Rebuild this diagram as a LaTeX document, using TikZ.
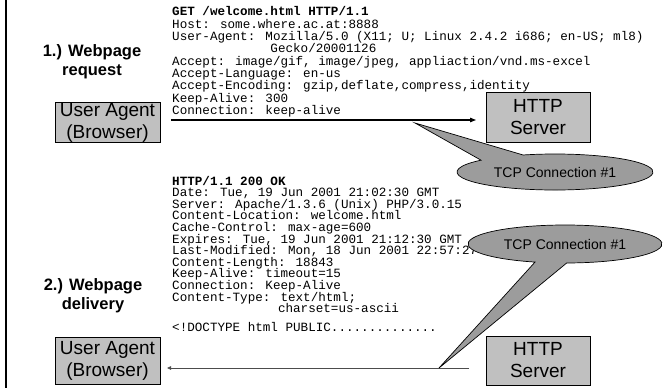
\documentclass[tikz,border=0pt]{standalone}
\usepackage{fontspec}
\setmainfont{Liberation Sans}
\newfontfamily\monof{Liberation Mono}
\usetikzlibrary{arrows.meta}
\definecolor{boxgray}{HTML}{C0C0C0}
\definecolor{bubgray}{HTML}{9C9C9C}
\begin{document}
\begin{tikzpicture}[x=1pt,y=1pt,yscale=-1,
  mono/.style={font=\monof\fontsize{12.6}{14}\selectfont, inner sep=0pt, anchor=base west},
  agentbox/.style={draw=black, line width=0.8pt, fill=boxgray, minimum width=105pt,
    align=center, font=\fontsize{19}{22}\selectfont, inner sep=0pt},
  phaselabel/.style={align=center, font=\bfseries\fontsize{16.5}{19}\selectfont, inner sep=0pt},
  bubble/.style={draw=black, line width=0.7pt, fill=bubgray},
  tcptext/.style={font=\fontsize{14}{16}\selectfont, inner sep=0pt},
  reqarrow/.style={-{Triangle[length=6pt,width=4.5pt]}, line width=1.1pt},
  resarrow/.style={-{Triangle[length=4pt,width=3.5pt]}, line width=0.8pt, draw=black!70, fill=black!70}]
\useasboundingbox (0,0) rectangle (663,388);

% left rule
\coordinate (rt) at (6,0);
\coordinate (rb) at (6,388);
\draw[line width=1.5pt] (rt) -- (rb);

% phase labels
\node[phaselabel] (lab1) at (92,62) {1.) Webpage\\request};
\node[phaselabel] (lab2) at (93,296) {2.) Webpage\\delivery};

% boxes
\node[agentbox, minimum height=40pt] (ua1) at (107.5,122.5) {User Agent\\(Browser)};
\node[agentbox, minimum height=47pt] (ua2) at (107.5,360.5) {User Agent\\(Browser)};
\node[agentbox, minimum width=104pt, minimum height=50pt] (http1) at (538,117) {HTTP\\Server};
\node[agentbox, minimum width=104pt, minimum height=49pt] (http2) at (538,360.5) {HTTP\\Server};

% request text
\foreach \t [count=\i] in {
  {\bfseries GET /welcome.html HTTP/1.1},
  {Host: some.where.ac.at:8888},
  {User-Agent: Mozilla/5.0 (X11; U; Linux 2.4.2 i686; en-US; ml8)},
  {\hspace*{7.8em}Gecko/20001126},
  {Accept: image/gif, image/jpeg, appliaction/vnd.ms-excel},
  {Accept-Language: en-us},
  {Accept-Encoding: gzip,deflate,compress,identity},
  {Keep-Alive: 300},
  {Connection: keep-alive}}
  \node[mono] (req\i) at (172,{16+12.3*(\i-1)}) {\t};

% response text
\foreach \t [count=\i] in {
  {\bfseries HTTP/1.1 200 OK},
  {Date: Tue, 19 Jun 2001 21:02:30 GMT},
  {Server: Apache/1.3.6 (Unix) PHP/3.0.15},
  {Content-Location: welcome.html},
  {Cache-Control: max-age=600},
  {Expires: Tue, 19 Jun 2001 21:12:30 GMT},
  {Last-Modified: Mon, 18 Jun 2001 22:57:27 GMT},
  {Content-Length: 18843},
  {Keep-Alive: timeout=15},
  {Connection: Keep-Alive},
  {Content-Type: text/html;},
  {\hspace*{8.4em}charset=us-ascii}}
  \node[mono] (res\i) at (172,{185+11.6*(\i-1)}) {\t};
\node[mono] (res14) at (172,{185+11.6*12.6}) {<!DOCTYPE html PUBLIC..............};

% arrows
\coordinate (a1s) at (171,120);
\coordinate (a1e) at (476,120);
\draw[reqarrow] (a1s) -- (a1e);
\coordinate (a2s) at (469,368);
\coordinate (a2e) at (167,368);
\draw[resarrow] (a2s) -- (a2e);

% callout 1
\coordinate (c1) at (555,172);
\coordinate (tip1) at (415,123);
\draw[bubble] ([shift={(251:98 and 18)}]c1) arc[start angle=251, end angle=581, x radius=98, y radius=18] -- (tip1) -- cycle;
\node[tcptext] (tcp1) at (c1) {TCP Connection \#1};

% callout 2
\coordinate (c2) at (565,244);
\coordinate (tip2) at (439,368);
\draw[bubble] ([shift={(108:97 and 19)}]c2) arc[start angle=108, end angle=449, x radius=97, y radius=19] -- (tip2) -- cycle;
\node[tcptext] (tcp2) at (c2) {TCP Connection \#1};
\end{tikzpicture}
\end{document}
